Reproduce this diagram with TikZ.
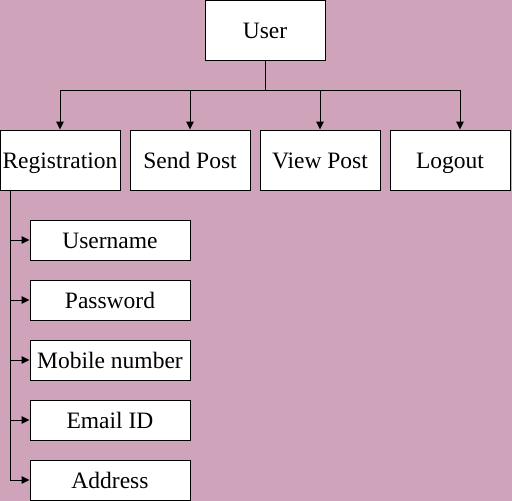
\documentclass[tikz,border=0pt]{standalone}
\usepackage{fontspec}
\setmainfont{Liberation Serif}
\usetikzlibrary{arrows.meta}
\definecolor{bgc}{RGB}{207,163,185}
\begin{document}
\begin{tikzpicture}[x=1pt,y=-1pt,
  box/.style={draw=black,fill=white,line width=1pt,inner sep=0pt,text height=18pt,text depth=2pt,font=\fontsize{23.5}{28}\selectfont},
  conn/.style={line width=1pt,-{Triangle[length=8pt,width=7.5pt]}}]
\fill[bgc] (0,0) rectangle (512,501);
\useasboundingbox (0,0) rectangle (512,501);
\node[box,minimum width=120pt,minimum height=60pt] (user) at (265,30) {User};
\node[box,minimum width=120pt,minimum height=60pt] (reg) at (60,160) {Registration};
\node[box,minimum width=120pt,minimum height=60pt] (send) at (190,160) {Send Post};
\node[box,minimum width=120pt,minimum height=60pt] (view) at (320,160) {View Post};
\node[box,minimum width=120pt,minimum height=60pt] (logout) at (450,160) {Logout};
\node[box,minimum width=160pt,minimum height=40pt] (uname) at (110,240) {Username};
\node[box,minimum width=160pt,minimum height=40pt] (pass) at (110,300) {Password};
\node[box,minimum width=160pt,minimum height=40pt] (mob) at (110,360) {Mobile number};
\node[box,minimum width=160pt,minimum height=40pt] (email) at (110,420) {Email ID};
\node[box,minimum width=160pt,minimum height=40pt] (addr) at (110,480) {Address};
\coordinate (bus) at (265,90);
\draw[line width=1pt] (user.south) -- (bus);
\draw[conn] (bus) -| (reg.north);
\draw[conn] (bus) -| (send.north);
\draw[conn] (bus) -| (view.north);
\draw[conn] (bus) -| ([xshift=10pt]logout.north);
\coordinate (trunk) at (10,190);
\draw[conn] (trunk) |- (uname.west);
\draw[conn] (trunk) |- (pass.west);
\draw[conn] (trunk) |- (mob.west);
\draw[conn] (trunk) |- (email.west);
\draw[conn] (trunk) |- (addr.west);
\end{tikzpicture}
\end{document}
